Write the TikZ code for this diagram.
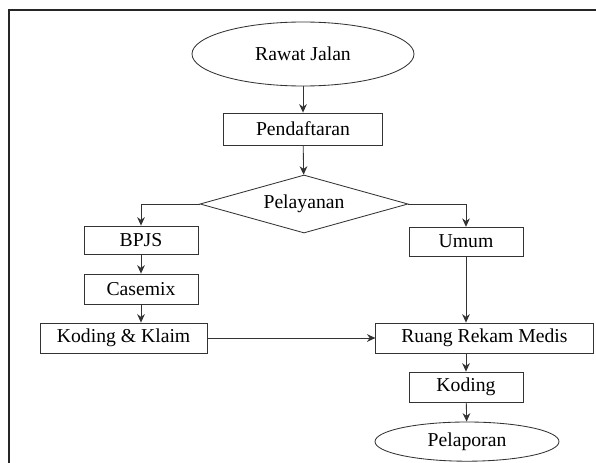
\documentclass[tikz,border=0pt]{standalone}
\usepackage{fontspec}
\setmainfont{Liberation Serif}
\usetikzlibrary{shapes,arrows,arrows.meta,positioning}

\begin{document}
\begin{tikzpicture}[
  block/.style={draw=black!80, line width=0.6pt, minimum height=0.75cm, align=center, inner sep=2pt, font=\fontsize{14}{16}\selectfont},
  term/.style={ellipse, draw=black!80, line width=0.6pt, inner sep=0pt, font=\fontsize{14}{16}\selectfont},
  decision/.style={diamond, aspect=3.6, draw=black!80, line width=0.6pt, inner sep=0pt, font=\fontsize{14}{16}\selectfont},
  arrow/.style={-{Stealth[length=6pt, width=5.5pt]}, line width=0.6pt, draw=black!80}
]
  \useasboundingbox (0,0) rectangle (14.9,-11.55);

  % Frame
  \draw[line width=1.4pt, black!85] (0.225,-11.6) -- (0.225,-0.25) -- (15,-0.25);

  % Top part
  \node[term, minimum width=5.55cm, minimum height=1.6cm] (rawat) at (7.575, -1.35) {Rawat Jalan};
  \node[block, minimum width=3.98cm, minimum height=0.8cm] (daftar) at (7.575, -3.225) {Pendaftaran};
  \node[decision, minimum width=5.2cm, minimum height=1.45cm] (layan) at (7.6, -5.1) {Pelayanan};

  % BPJS branch
  \node[block, minimum width=2.85cm, minimum height=0.7cm] (bpjs) at (3.525, -6.0) {BPJS};
  \node[block, minimum width=2.85cm] (casemix) at (3.525, -7.225) {Casemix};
  \node[block, minimum width=4.18cm] (kklaim) at (3.09, -8.45) {Koding \& Klaim};

  % Umum branch
  \node[block, minimum width=2.85cm, minimum height=0.72cm] (umum) at (11.65, -6.04) {Umum};
  \node[block, minimum width=5.43cm] (ruang) at (12.11, -8.45) {Ruang Rekam Medis};
  \node[block, minimum width=2.85cm] (koding) at (11.65, -9.675) {Koding};
  \node[term, minimum width=4.6cm, minimum height=0.98cm] (lapor) at (11.675, -11.04) {Pelaporan};

  % Arrows
  \draw[arrow] (rawat) -- (daftar);
  \draw[arrow] (daftar) -- (layan);
  \draw[arrow] (layan.west) -| (bpjs.north);
  \draw[arrow] (layan.east) -| (umum.north);
  \draw[arrow] (bpjs) -- (casemix);
  \draw[arrow] (casemix.south) -- (casemix.south |- kklaim.north);
  \draw[arrow] (kklaim) -- (ruang);
  \draw[arrow] (umum) -- (umum |- ruang.north);
  \draw[arrow] (ruang.south -| koding) -- (koding);
  \draw[arrow] (koding) -- (lapor);
\end{tikzpicture}
\end{document}
